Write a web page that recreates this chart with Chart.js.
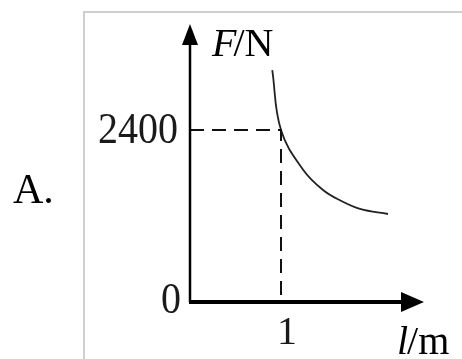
<!DOCTYPE html>
<html>
<head>
<meta charset="utf-8">
<script src="https://cdn.jsdelivr.net/npm/chart.js@4"></script>
<style>
  html, body { margin: 0; padding: 0; background: #fff; }
  #wrap { width: 462px; height: 359px; }
</style>
</head>
<body>
<div id="wrap"><canvas id="canvas"></canvas></div>
<script>
// curve F(l)
var lengths = [0.904, 1.0, 1.245, 1.462, 1.648, 1.868, 2.176];
var forces  = [3237, 2400, 1842, 1563, 1420, 1300, 1228];

// guide lines to the marked point
var guideX = [0, 1, 1];
var guideY = [2400, 2400, 0];

var xTicks = [1];
var yTicks = [0, 2400];
var yTickLabels = ['0', '2400'];
var xTickLabels = ['1'];

var curvePts = lengths.map(function (l, i) { return { x: l, y: forces[i] }; });
var guidePts = guideX.map(function (x, i) { return { x: x, y: guideY[i] }; });

var serif = '"Liberation Serif", "Times New Roman", serif';

// axes, arrows, labels and the frame round the figure
var drawing = {
    id: 'drawing',
    beforeDraw: function (chart) {
        var c = chart.ctx;
        c.save();
        c.fillStyle = '#fff';
        c.fillRect(0, 0, chart.width, chart.height);
        // light frame
        c.strokeStyle = '#cfcfcf';
        c.lineWidth = 2;
        c.beginPath();
        c.moveTo(84, 359);
        c.lineTo(84, 12);
        c.lineTo(462, 12);
        c.stroke();
        c.restore();
    },
    afterDraw: function (chart) {
        var c = chart.ctx;
        var xs = chart.scales.x, ys = chart.scales.y;
        var x0 = xs.getPixelForValue(0), y0 = ys.getPixelForValue(0);
        c.save();
        c.strokeStyle = '#000';
        c.fillStyle = '#000';

        // y axis
        c.lineWidth = 2.5;
        c.beginPath();
        c.moveTo(x0, y0);
        c.lineTo(x0, 40);
        c.stroke();
        c.beginPath();
        c.moveTo(x0, 24);
        c.lineTo(x0 - 8, 45);
        c.lineTo(x0 + 8, 45);
        c.closePath();
        c.fill();

        // x axis
        c.lineWidth = 4;
        c.beginPath();
        c.moveTo(x0 - 1, y0);
        c.lineTo(405, y0);
        c.stroke();
        c.beginPath();
        c.moveTo(424, y0);
        c.lineTo(401, y0 - 10);
        c.lineTo(401, y0 + 10);
        c.closePath();
        c.fill();

        // tick labels, a bit tall like the original face
        c.fillStyle = '#1a1a1a';
        c.textBaseline = 'middle';
        c.textAlign = 'right';
        yTicks.forEach(function (v, i) {
            var yy = ys.getPixelForValue(v);
            var xx = v === 0 ? x0 - 9 : x0 - 12;
            c.save();
            c.translate(xx, yy + (v === 0 ? -1 : 1));
            c.scale(1, 1.1);
            c.font = '40px ' + serif;
            c.fillText(yTickLabels[i], 0, 0);
            c.restore();
        });
        c.textAlign = 'center';
        c.font = '40px ' + serif;
        xTicks.forEach(function (v, i) {
            c.fillText(xTickLabels[i], xs.getPixelForValue(v) + 6, y0 + 31);
        });

        // axis titles
        c.fillStyle = '#000';
        c.textAlign = 'left';
        c.textBaseline = 'alphabetic';
        c.font = 'italic 40px ' + serif;
        c.fillText('F', 212, 56);
        var w = c.measureText('F').width;
        c.font = '40px ' + serif;
        c.fillText('/N', 212 + w - 3, 56);

        c.font = 'italic 40px ' + serif;
        c.fillText('l', 397, 354);
        w = c.measureText('l').width;
        c.font = '40px ' + serif;
        c.fillText('/m', 397 + w - 1, 354);

        // option letter
        c.font = '42px ' + serif;
        c.fillText('A.', 13, 203);
        c.restore();
    }
};

new Chart(document.getElementById('canvas'), {
    type: 'scatter',
    data: {
        datasets: [
            {
                data: guidePts,
                showLine: true,
                borderColor: '#111',
                borderWidth: 2,
                borderDash: [14, 8],
                pointRadius: 0,
                tension: 0
            },
            {
                data: curvePts,
                showLine: true,
                borderColor: '#222',
                borderWidth: 1.8,
                pointRadius: 0,
                tension: 0.4
            }
        ]
    },
    options: {
        responsive: true,
        maintainAspectRatio: false,
        animation: false,
        devicePixelRatio: 1,
        layout: { padding: { left: 190, right: 44.5, top: 44, bottom: 57 } },
        plugins: { legend: { display: false }, tooltip: { enabled: false } },
        scales: {
            x: { type: 'linear', min: 0, max: 2.5, display: false },
            y: { type: 'linear', min: 0, max: 3600, display: false }
        }
    },
    plugins: [drawing]
});
</script>
</body>
</html>
